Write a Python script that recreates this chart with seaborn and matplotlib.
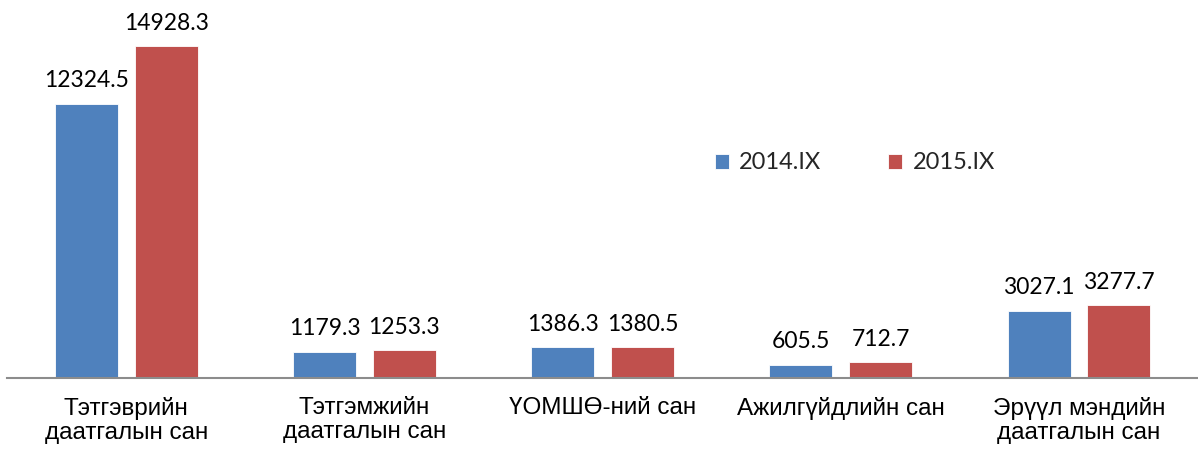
import pandas as pd
import matplotlib.pyplot as plt
import seaborn as sns

categories = ["Тэтгэврийн\nдаатгалын сан", "Тэтгэмжийн\nдаатгалын сан", "ҮОМШӨ-ний сан",
              "Ажилгүйдлийн сан", "Эрүүл мэндийн\nдаатгалын сан"]
v2014 = [12324.5, 1179.3, 1386.3, 605.5, 3027.1]
v2015 = [14928.3, 1253.3, 1380.5, 712.7, 3277.7]
series = ["2014.IX", "2015.IX"]
colors = ["#4F81BD", "#C0504D"]

df = pd.DataFrame({
    "cat": categories * 2,
    "val": v2014 + v2015,
    "year": [series[0]] * 5 + [series[1]] * 5,
})

sns.set_theme(style="white")
plt.rcParams['font.family'] = ['Liberation Sans', 'DejaVu Sans']

fig = plt.figure(figsize=(11.98, 4.5), dpi=100)
ax = fig.add_axes([0.006, 0.16, 0.994, 0.84])

sns.barplot(data=df, x="cat", y="val", hue="year", palette=colors, width=0.67, gap=0.21,
            edgecolor="white", linewidth=0.6, saturation=1, ax=ax)

for c in ax.containers:
    ax.bar_label(c, labels=[f"{v:.1f}" for v in c.datavalues], padding=9,
                 fontsize=16.5, family="Lato", color="black")

ax.set_ylim(0, 17000)
ax.set_xlim(-0.5, 4.5)
ax.set_xlabel("")
ax.set_ylabel("")
ax.set_yticks([])
ax.tick_params(axis="x", length=0, labelsize=17.5, pad=14, colors="black")
for lbl in ax.get_xticklabels():
    lbl.set_linespacing(1.12)
for s in ["top", "right", "left"]:
    ax.spines[s].set_visible(False)
ax.spines["bottom"].set_color("#8c8c8c")
ax.spines["bottom"].set_linewidth(1.5)

leg = ax.legend(loc="center left", bbox_to_anchor=(0.594, 0.569), ncol=2, frameon=False,
                borderpad=0, borderaxespad=0,
                handlelength=0.6, handleheight=0.6, handletextpad=0.45, columnspacing=2.8,
                prop={"family": "Lato", "size": 17})

fig.savefig("out.png", dpi=100)
